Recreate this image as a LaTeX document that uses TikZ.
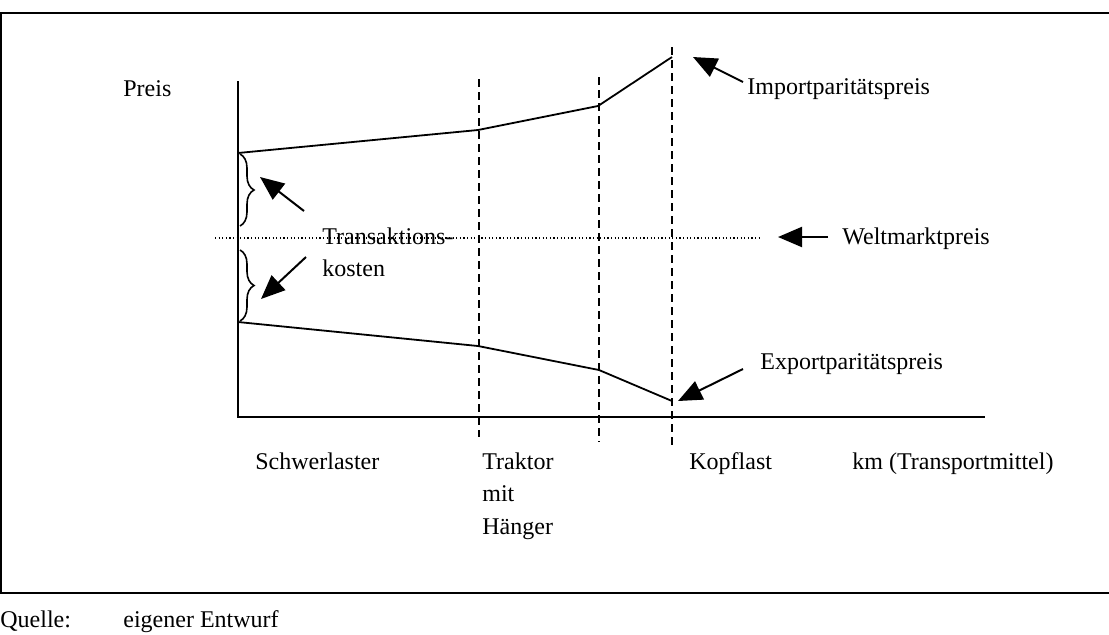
\documentclass[tikz,border=0pt]{standalone}
\usepackage{fontspec}
\setmainfont{Liberation Serif}
\usetikzlibrary{arrows.meta,decorations.pathreplacing}
\begin{document}
\begin{tikzpicture}[x=0.5pt,y=-0.5pt,
  lbl/.style={anchor=base west,inner sep=0pt,font=\fontsize{12pt}{16.25pt}\selectfont,align=left},
  frameline/.style={line width=1.3pt},
  axis/.style={line width=1pt},
  curve/.style={line width=0.9pt},
  vdash/.style={line width=0.8pt,dash pattern=on 4pt off 2.5pt},
  bigarrow/.style={line width=1pt,-{Triangle[length=12pt,width=10pt]}},
  bracestyle/.style={line width=0.8pt,decorate,decoration={brace,amplitude=7pt,aspect=0.5}}]
\useasboundingbox (0,0) rectangle (1109,634);
% frame
\draw[frameline] (0,13) -- (1109,13);
\draw[frameline] (0,593) -- (1109,593);
\draw[frameline] (1,13) -- (1,593);
% axes
\coordinate (ytop) at (238,81);
\coordinate (origin) at (238,417);
\coordinate (xend) at (985,417);
\draw[axis] (ytop) -- (origin) -- (xend);
% dashed verticals
\coordinate (d1t) at (479,79);  \coordinate (d1b) at (479,437);
\coordinate (d2t) at (599,77);  \coordinate (d2b) at (599,442);
\coordinate (d3t) at (672,47);  \coordinate (d3b) at (672,446);
\draw[vdash] (d1t) -- (d1b);
\draw[vdash] (d2t) -- (d2b);
\draw[vdash] (d3t) -- (d3b);
% price curves
\coordinate (u0) at (238,153); \coordinate (u1) at (478,130);
\coordinate (u2) at (598,106); \coordinate (u3) at (672,57);
\draw[curve] (u0) -- (u1) -- (u2) -- (u3);
\coordinate (l0) at (238,322); \coordinate (l1) at (478,346);
\coordinate (l2) at (599,370); \coordinate (l3) at (672,401);
\draw[curve] (l0) -- (l1) -- (l2) -- (l3);
% world market price
\coordinate (w0) at (215,238); \coordinate (w1) at (762,238);
\draw[line width=0.6pt,dash pattern=on 0.6pt off 1.2pt] (w0) -- (w1);
% braces
\coordinate (b1t) at (240,154); \coordinate (b1b) at (240,226);
\coordinate (b2t) at (240,250); \coordinate (b2b) at (240,321);
\draw[bracestyle] (b1t) -- (b1b);
\draw[bracestyle] (b2t) -- (b2b);
% labels
\node[lbl] (preis) at (123,96) {Preis};
\node[lbl] (import) at (747,94) {Importparitätspreis};
\node[lbl] (welt) at (842,244) {Weltmarktpreis};
\node[lbl] (trans) at (322,276.5) {Transaktions-\\kosten};
\node[lbl] (export) at (760,369) {Exportparitätspreis};
\node[lbl] (schwer) at (255,469) {Schwerlaster};
\node[lbl] (traktor) at (482,534) {Traktor\\mit\\Hänger};
\node[lbl] (kopf) at (689,469) {Kopflast};
\node[lbl] (km) at (852,469) {km (Transportmittel)};
\node[lbl] (quelle) at (0,627) {Quelle:};
\node[lbl] (entwurf) at (123,627) {eigener Entwurf};
% arrows
\coordinate (a1s) at (304,211); \coordinate (a1e) at (260,177);
\coordinate (a2s) at (306,257); \coordinate (a2e) at (261,299);
\coordinate (a3s) at (743,82);  \coordinate (a3e) at (693,57);
\coordinate (a4s) at (743,369); \coordinate (a4e) at (678,401);
\coordinate (a5s) at (828,237); \coordinate (a5e) at (778,237);
\draw[bigarrow] (a1s) -- (a1e);
\draw[bigarrow] (a2s) -- (a2e);
\draw[bigarrow] (a3s) -- (a3e);
\draw[bigarrow] (a4s) -- (a4e);
\draw[bigarrow] (a5s) -- (a5e);
\end{tikzpicture}
\end{document}
